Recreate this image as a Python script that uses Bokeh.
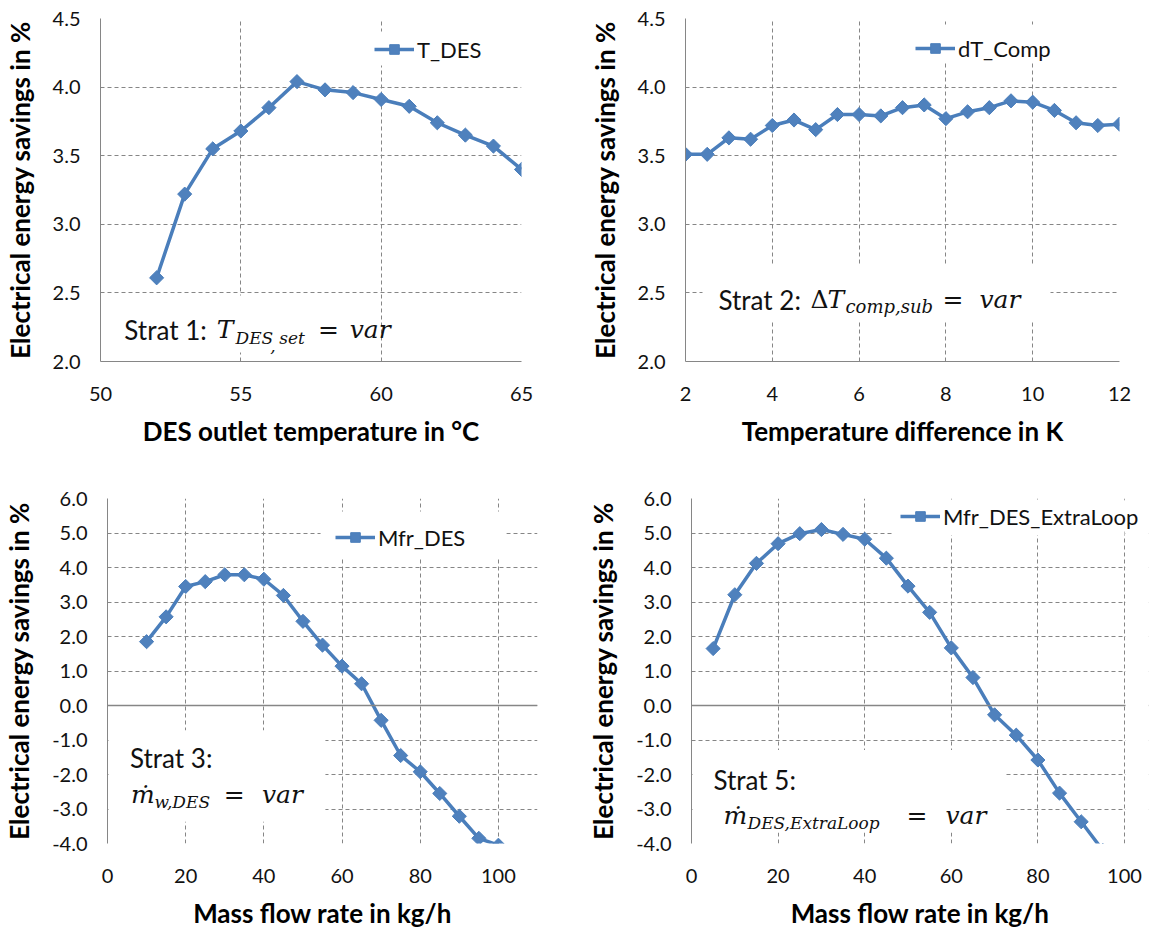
import math
from bokeh.plotting import figure
from bokeh.layouts import column, row
from bokeh.models import (Range1d, FixedTicker, NumeralTickFormatter, Legend, LegendItem,
                          Label, BoxAnnotation, Span)
from bokeh.embed import file_html
from bokeh.resources import INLINE

# ---------------- data ----------------
t_des_x = [52, 53, 54, 55, 56, 57, 58, 59, 60, 61, 62, 63, 64, 65]
t_des_y = [2.61, 3.22, 3.55, 3.68, 3.85, 4.04, 3.98, 3.96, 3.91, 3.86, 3.74, 3.65, 3.57, 3.40]

dt_comp_x = [2, 2.5, 3, 3.5, 4, 4.5, 5, 5.5, 6, 6.5, 7, 7.5, 8, 8.5, 9, 9.5, 10, 10.5, 11, 11.5, 12]
dt_comp_y = [3.51, 3.51, 3.63, 3.62, 3.72, 3.76, 3.69, 3.80, 3.80, 3.79, 3.85, 3.87, 3.77,
             3.82, 3.85, 3.90, 3.89, 3.83, 3.74, 3.72, 3.73]

mfr_des_x = [10, 15, 20, 25, 30, 35, 40, 45, 50, 55, 60, 65, 70, 75, 80, 85, 90, 95, 100]
mfr_des_y = [1.85, 2.57, 3.45, 3.59, 3.79, 3.79, 3.66, 3.19, 2.44, 1.75, 1.14, 0.63,
             -0.43, -1.45, -1.92, -2.55, -3.21, -3.85, -4.05]

mfr_xl_x = [5, 10, 15, 20, 25, 30, 35, 40, 45, 50, 55, 60, 65, 70, 75, 80, 85, 90, 95]
mfr_xl_y = [1.65, 3.21, 4.12, 4.69, 4.98, 5.10, 4.96, 4.82, 4.27, 3.46, 2.70, 1.67, 0.81,
            -0.27, -0.86, -1.58, -2.54, -3.37, -4.20]

x_ticks_1 = [50, 55, 60, 65]
x_ticks_2 = [2, 4, 6, 8, 10, 12]
x_ticks_35 = [0, 20, 40, 60, 80, 100]
y_ticks_12 = [2.0, 2.5, 3.0, 3.5, 4.0, 4.5]
y_ticks_35 = [-4, -3, -2, -1, 0, 1, 2, 3, 4, 5, 6]

y_title = "Electrical energy savings in %"

# ---------------- styling ----------------
BLUE_LINE = "#4A7EBB"
BLUE_FILL = "#4F81BD"
GRAY = "#868686"
SANS = "Lato"
SERIF = "DejaVu Serif"
MAIN = 26
MATH = 25
SUB = 17


class Frame:
    def __init__(self, left, right, top, bottom, xr, yr):
        self.l, self.r, self.t, self.b = left, right, top, bottom
        self.xr, self.yr = xr, yr

    def dx(self, px):
        return self.xr[0] + (px - self.l) / (self.r - self.l) * (self.xr[1] - self.xr[0])

    def dy(self, py):
        return self.yr[0] + (self.b - py) / (self.b - self.t) * (self.yr[1] - self.yr[0])


def make_panel(fr, width, height, borders, xticks, yticks, xlabel, xs, ys, zero_line):
    bl, br, bt, bb = borders
    p = figure(width=width, height=height, output_backend="svg", toolbar_location=None,
               title=None, x_range=Range1d(*fr.xr), y_range=Range1d(*fr.yr),
               min_border_left=bl, min_border_right=br, min_border_top=bt, min_border_bottom=bb,
               background_fill_color="white", border_fill_color="white")
    p.outline_line_color = None
    for ax in (p.xaxis[0], p.yaxis[0]):
        ax.major_tick_line_color = None
        ax.minor_tick_line_color = None
        ax.axis_line_color = GRAY
        ax.axis_line_width = 1
        ax.major_label_text_font = SANS
        ax.major_label_text_font_size = "20px"
        ax.major_label_text_color = "#111111"
        ax.axis_label_text_font = SANS
        ax.axis_label_text_font_size = "26px"
        ax.axis_label_text_font_style = "bold"
        ax.axis_label_text_color = "#000000"
    p.xaxis.ticker = FixedTicker(ticks=xticks)
    p.yaxis.ticker = FixedTicker(ticks=yticks)
    p.yaxis.formatter = NumeralTickFormatter(format="0.0")
    p.xaxis.axis_label = xlabel
    p.yaxis.axis_label = y_title
    p.yaxis.major_label_standoff = 14
    p.yaxis.axis_label_standoff = 14
    p.xaxis.major_label_standoff = 19
    p.xaxis.axis_label_standoff = 11
    for g in (p.xgrid[0], p.ygrid[0]):
        g.grid_line_color = GRAY
        g.grid_line_dash = "4 3"
        g.grid_line_width = 1
    if zero_line:
        p.xaxis.axis_line_color = None
        p.add_layout(Span(location=0, dimension="width", line_color=GRAY, line_width=1.3))

    r_line = p.line(xs, ys, line_color=BLUE_LINE, line_width=3.5)
    r_pts = p.scatter(xs, ys, marker="square", angle=math.pi / 4, size=10,
                      fill_color=BLUE_FILL, line_color=BLUE_LINE, line_width=1)
    return p, (r_line, r_pts)


def add_legend(p, fr, rends, name, glyph_left, center_y):
    pad = 3
    gh = 24
    half = (27 + 2 * pad) / 2
    leg = Legend(items=[LegendItem(label=name, renderers=list(rends))],
                 location=(glyph_left - fr.l - pad, fr.b - center_y - half),
                 glyph_width=40, glyph_height=gh, padding=pad, margin=0, spacing=0,
                 label_standoff=3, label_text_font=SANS, label_text_font_size="22px",
                 label_text_color="#111111", border_line_color=None,
                 background_fill_color="white", background_fill_alpha=1.0)
    p.add_layout(leg, "center")


def white_box(p, fr, l, r, t, b):
    p.add_layout(BoxAnnotation(left=fr.dx(l), right=fr.dx(r), top=fr.dy(t), bottom=fr.dy(b),
                               fill_color="white", fill_alpha=1.0, line_color=None))


def txt(p, fr, px, py, s, size, font=SANS, style="normal"):
    p.add_layout(Label(x=fr.dx(px), y=fr.dy(py), text=s, text_font=font,
                       text_font_size=f"{size}px", text_font_style=style,
                       text_color="#111111", text_baseline="alphabetic", text_align="left"))


# ---------------- panel 1 ----------------
fr1 = Frame(97, 521, 18, 361, (50, 65), (2.0, 4.5))
p1, r1 = make_panel(fr1, 578, 458, (97, 57, 18, 97), x_ticks_1, y_ticks_12,
                    "DES outlet temperature in °C", t_des_x, t_des_y, False)
white_box(p1, fr1, 98, 360, 295, 352)
white_box(p1, fr1, 362, 492, 31, 65)
add_legend(p1, fr1, r1, "T_DES", 374, 46)
txt(p1, fr1, 121, 329, "Strat 1:", MAIN)
txt(p1, fr1, 214, 329, "T", MATH, SERIF, "italic")
txt(p1, fr1, 233, 337, "DES", SUB, SERIF, "italic")
txt(p1, fr1, 268, 345, ",", SUB, SERIF, "italic")
txt(p1, fr1, 277, 337, "set", SUB, SERIF, "italic")
txt(p1, fr1, 316, 329, "=", MATH, SERIF)
txt(p1, fr1, 348, 329, "var", MATH, SERIF, "italic")

# ---------------- panel 2 ----------------
fr2 = Frame(685, 1119, 18, 361, (2, 12), (2.0, 4.5))
p2, r2 = make_panel(fr2, 579, 458, (107, 38, 18, 97), x_ticks_2, y_ticks_12,
                    "Temperature difference in K", dt_comp_x, dt_comp_y, False)
white_box(p2, fr2, 702, 1050, 264, 320)
white_box(p2, fr2, 905, 1072, 24, 62)
add_legend(p2, fr2, r2, "dT_Comp", 918, 45)
txt(p2, fr2, 718, 299, "Strat 2:", MAIN)
txt(p2, fr2, 810, 299, "\u0394", MATH, SERIF)
txt(p2, fr2, 827, 299, "T", MATH, SERIF, "italic")
txt(p2, fr2, 845, 306, "comp,sub", SUB + 1, SERIF, "italic")
txt(p2, fr2, 942, 299, "=", MATH, SERIF)
txt(p2, fr2, 979, 299, "var", MATH, SERIF, "italic")

# ---------------- panel 3 ----------------
fr3 = Frame(97, 537, 498, 845, (0, 110), (-4.0, 6.0))
p3, r3 = make_panel(fr3, 578, 473, (97, 41, 40, 86), x_ticks_35, y_ticks_35,
                    "Mass flow rate in kg/h", mfr_des_x, mfr_des_y, True)
white_box(p3, fr3, 98, 320, 731, 823)
white_box(p3, fr3, 315, 505, 511, 557)
add_legend(p3, fr3, r3, "Mfr_DES", 328, 536)
txt(p3, fr3, 120, 759, "Strat 3:", MAIN)
txt(p3, fr3, 121, 796, "\u1e41", MATH, SERIF, "italic")
txt(p3, fr3, 145, 803, "w,DES", SUB, SERIF, "italic")
txt(p3, fr3, 216, 796, "=", MATH, SERIF)
txt(p3, fr3, 255, 796, "var", MATH, SERIF, "italic")

# ---------------- panel 4 ----------------
# plot area ends at x = 100 (px 1124); the frame is widened so the legend can overflow it
P4_RIGHT_PX = 1148
x_max_4 = 100 * (P4_RIGHT_PX - 691) / (1124 - 691)
fr4 = Frame(691, P4_RIGHT_PX, 498, 845, (0, x_max_4), (-4.0, 6.0))
p4, r4 = make_panel(fr4, 579, 473, (113, 579 - (P4_RIGHT_PX - 578), 40, 86),
                    x_ticks_35, y_ticks_35, "Mass flow rate in kg/h", mfr_xl_x, mfr_xl_y, True)
white_box(p4, fr4, 1125, P4_RIGHT_PX + 2, 490, 850)
white_box(p4, fr4, 692, 1005, 751, 834)
white_box(p4, fr4, 893, 1124, 499, 535)
add_legend(p4, fr4, r4, "Mfr_DES_ExtraLoop", 903, 515)
txt(p4, fr4, 713, 781, "Strat 5:", MAIN)
txt(p4, fr4, 723, 817, "\u1e41", MATH, SERIF, "italic")
txt(p4, fr4, 747, 824, "DES,ExtraLoop", SUB, SERIF, "italic")
txt(p4, fr4, 906, 817, "=", MATH, SERIF)
txt(p4, fr4, 945, 817, "var", MATH, SERIF, "italic")

layout = column(row(p1, p2, spacing=0), row(p3, p4, spacing=0), spacing=0)
open("out.html", "w").write(file_html(layout, INLINE))
